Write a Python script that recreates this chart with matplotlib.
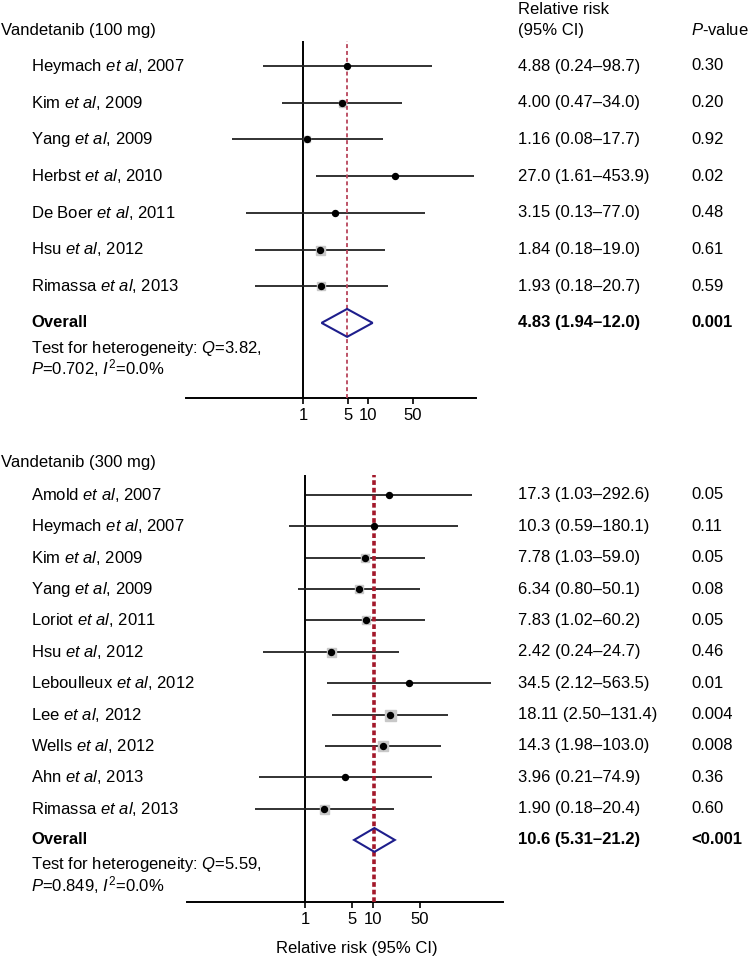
import numpy as np
import matplotlib
matplotlib.use("Agg")
import matplotlib.pyplot as plt
import matplotlib.transforms as mtransforms
from matplotlib.ticker import FixedLocator, FixedFormatter, NullLocator
from matplotlib.patches import Polygon

plt.rcParams['font.family'] = ['Liberation Sans', 'DejaVu Sans']
plt.rcParams['mathtext.fontset'] = 'custom'
plt.rcParams['mathtext.rm'] = 'Liberation Sans'
plt.rcParams['mathtext.it'] = 'Liberation Sans:italic'
plt.rcParams['mathtext.bf'] = 'Liberation Sans:bold'

# vandetanib 100 mg
authors_100 = ["Heymach", "Kim", "Yang", "Herbst", "De Boer", "Hsu", "Rimassa"]
years_100 = [2007, 2009, 2009, 2010, 2011, 2012, 2013]
rr_100 = ["4.88", "4.00", "1.16", "27.0", "3.15", "1.84", "1.93"]
lo_100 = ["0.24", "0.47", "0.08", "1.61", "0.13", "0.18", "0.18"]
hi_100 = ["98.7", "34.0", "17.7", "453.9", "77.0", "19.0", "20.7"]
p_100 = ["0.30", "0.20", "0.92", "0.02", "0.48", "0.61", "0.59"]
wt_100 = [5, 7, 6, 0, 4, 9, 8]
overall_100 = ["4.83", "1.94", "12.0", "0.001"]
het_100 = ["3.82", "0.702", "0.0"]

# vandetanib 300 mg
authors_300 = ["Amold", "Heymach", "Kim", "Yang", "Loriot", "Hsu",
               "Leboulleux", "Lee", "Wells", "Ahn", "Rimassa"]
years_300 = [2007, 2007, 2009, 2009, 2011, 2012, 2012, 2012, 2012, 2013, 2013]
rr_300 = ["17.3", "10.3", "7.78", "6.34", "7.83", "2.42", "34.5", "18.11", "14.3", "3.96", "1.90"]
lo_300 = ["1.03", "0.59", "1.03", "0.80", "1.02", "0.24", "2.12", "2.50", "1.98", "0.21", "0.18"]
hi_300 = ["292.6", "180.1", "59.0", "50.1", "60.2", "24.7", "563.5", "131.4", "103.0", "74.9", "20.4"]
p_300 = ["0.05", "0.11", "0.05", "0.08", "0.05", "0.46", "0.01", "0.004", "0.008", "0.36", "0.60"]
wt_300 = [4, 4, 8, 8, 8, 9, 4, 11, 10, 4, 9]
overall_300 = ["10.6", "5.31", "21.2", "<0.001"]
het_300 = ["5.59", "0.849", "0.0"]

ticks = [1, 5, 10, 50]
tick_labels = ["1", "5", "10", "50"]

W, H = 748, 957
fig = plt.figure(figsize=(W / 100, H / 100), dpi=100)
FS = 12


def fx(px):
    return px / W


def fy(py):
    return 1 - py / H


def draw_panel(ax, title, title_y, authors, years, rr, lo, hi, pv, wt, overall, het,
               het_y, red_lw, red_dash, red_col):
    n = len(authors)
    rows = np.arange(n)
    est = np.array([float(v) for v in rr])
    low = np.array([float(v) for v in lo])
    high = np.array([float(v) for v in hi])

    ax.set_xscale('log')
    for s in ['top', 'left', 'right']:
        ax.spines[s].set_visible(False)
    ax.spines['bottom'].set_linewidth(1.4)
    ax.xaxis.set_major_locator(FixedLocator(ticks))
    ax.xaxis.set_major_formatter(FixedFormatter(tick_labels))
    ax.xaxis.set_minor_locator(NullLocator())
    ax.tick_params(axis='x', length=4, width=1.2, labelsize=FS, pad=3)
    ax.set_yticks([])

    ax.axvline(1, color='black', lw=1.4, zorder=1)
    ax.axvline(float(overall[0]), color=red_col, lw=red_lw, ls=(0, red_dash), zorder=4)

    ax.hlines(rows, low, high, color='#222222', lw=1.3, zorder=2)
    for r, e, w in zip(rows, est, wt):
        if w > 0:
            ax.plot(e, r, marker='s', ms=w * 0.72, color='#c8c8c8', mec='#c8c8c8', zorder=3)
    ax.plot(est, rows, 'o', ms=4.3, color='black', zorder=5)

    oe, ol, oh = float(overall[0]), float(overall[1]), float(overall[2])
    dh = 0.38
    diamond = Polygon([[ol, n], [oe, n - dh], [oh, n], [oe, n + dh]], closed=True,
                      fill=False, edgecolor='#1e1e8c', lw=1.5, zorder=6)
    ax.add_patch(diamond)

    tr = mtransforms.blended_transform_factory(fig.transFigure, ax.transData)
    for r in rows:
        ax.text(fx(31), r, f"{authors[r]} $et$ $al$, {years[r]}", transform=tr,
                fontsize=FS, va='center', ha='left')
        ax.text(fx(518), r, f"{rr[r]} ({lo[r]}\u2013{hi[r]})", transform=tr,
                fontsize=FS, va='center', ha='left')
        ax.text(fx(691), r, pv[r], transform=tr, fontsize=FS, va='center', ha='left')
    ax.text(fx(31), n, "Overall", transform=tr, fontsize=FS, va='center',
            ha='left', fontweight='bold')
    ax.text(fx(518), n, f"{overall[0]} ({overall[1]}\u2013{overall[2]})", transform=tr,
            fontsize=FS, va='center', ha='left', fontweight='bold')
    ax.text(fx(691), n, overall[3], transform=tr, fontsize=FS, va='center',
            ha='left', fontweight='bold')

    fig.text(fx(1), fy(title_y), title, fontsize=FS, va='center', ha='left')
    fig.text(fx(31), fy(het_y[0]), f"Test for heterogeneity: $Q$={het[0]},",
             fontsize=FS, va='center', ha='left')
    fig.text(fx(31), fy(het_y[1]), f"$P$={het[1]}, $I^2$={het[2]}%",
             fontsize=FS, va='center', ha='left')


# top panel: axis from x=186..476 px, y=41..398 px
ax1 = fig.add_axes([fx(186), fy(398), fx(476 - 186), (398 - 41) / H])
sp1 = 36.7
ax1.set_xlim(10 ** ((186 - 303) / 64.5), 10 ** ((476 - 303) / 64.5))
ax1.set_ylim((398 - 66) / sp1, -(66 - 41) / sp1)
draw_panel(ax1, "Vandetanib (100 mg)", 30, authors_100, years_100, rr_100, lo_100,
           hi_100, p_100, wt_100, overall_100, het_100, (348, 368),
           1.3, (2.2, 1.6), '#b8445a')

# bottom panel: axis from x=187..503 px, y=475..902 px
ax2 = fig.add_axes([fx(187), fy(902), fx(503 - 187), (902 - 475) / H])
sp2 = 31.36
ax2.set_xlim(10 ** ((187 - 305) / 67.7), 10 ** ((503 - 305) / 67.7))
ax2.set_ylim((902 - 495) / sp2, -(495 - 475) / sp2)
draw_panel(ax2, "Vandetanib (300 mg)", 462, authors_300, years_300, rr_300, lo_300,
           hi_300, p_300, wt_300, overall_300, het_300, (865, 885),
           2.6, (1.3, 0.8), '#a3182a')

# column headers
fig.text(fx(518), fy(9), "Relative risk", fontsize=FS, va='center', ha='left')
fig.text(fx(518), fy(30), "(95% CI)", fontsize=FS, va='center', ha='left')
fig.text(fx(691), fy(30), "$P$-value", fontsize=FS, va='center', ha='left')

fig.text(fx(357), fy(948), "Relative risk (95% CI)", fontsize=FS, va='center', ha='center')

fig.savefig("out.png", dpi=100)
